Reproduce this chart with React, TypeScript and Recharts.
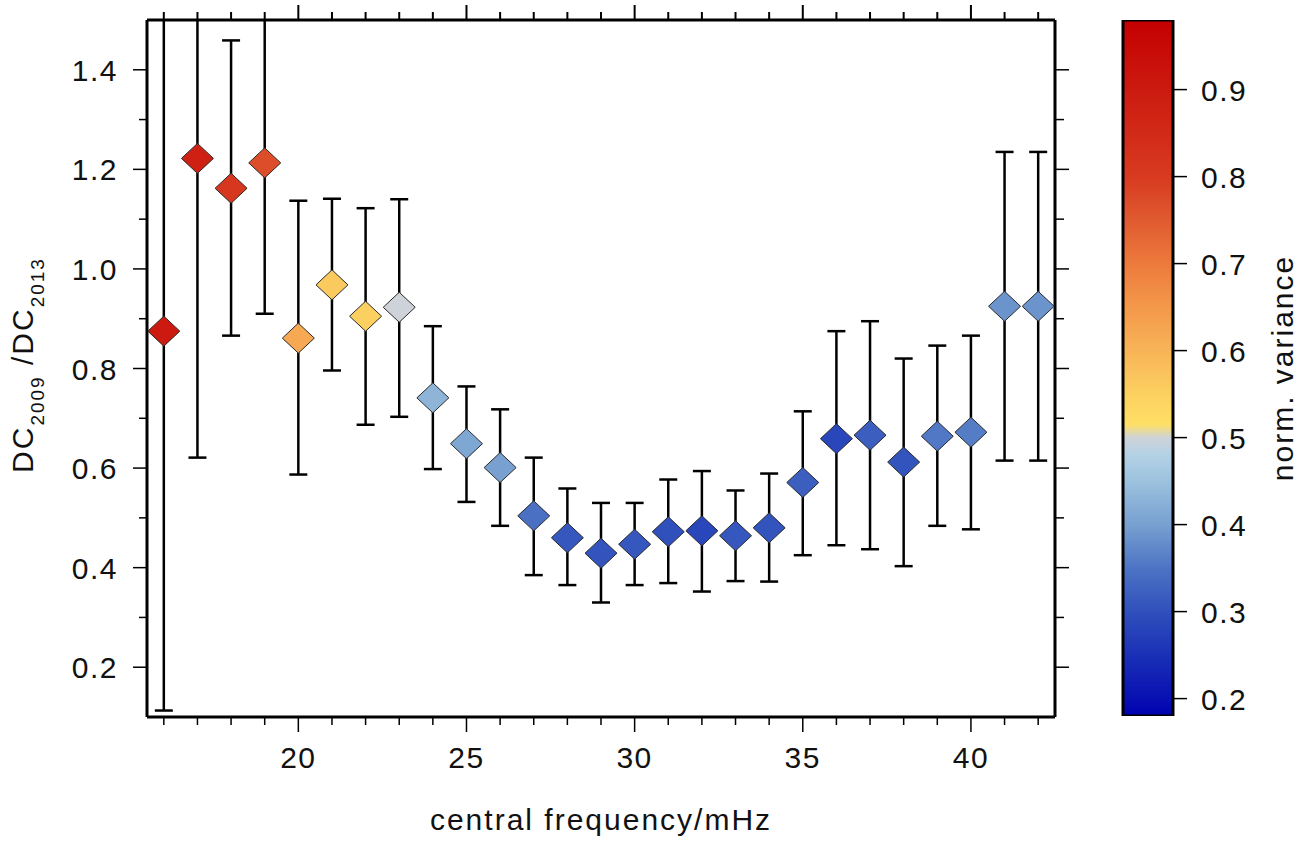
import {
  ComposedChart,
  Scatter,
  ErrorBar,
  Bar,
  XAxis,
  YAxis,
  Label,
  ReferenceLine,
} from 'recharts'

// central frequency (mHz)
const freqs = [16, 17, 18, 19, 20, 21, 22, 23, 24, 25, 26, 27, 28, 29, 30, 31, 32, 33, 34, 35, 36, 37, 38, 39, 40, 41, 42]
// DC2009 / DC2013 ratio
const ratio = [0.875, 1.222, 1.162, 1.213, 0.861, 0.968, 0.905, 0.923, 0.741, 0.649, 0.601, 0.504, 0.46, 0.429, 0.447, 0.472, 0.474, 0.464, 0.48, 0.571, 0.659, 0.666, 0.612, 0.664, 0.672, 0.925, 0.925]
const upper = [1.65, 1.65, 1.459, 1.65, 1.137, 1.141, 1.122, 1.14, 0.885, 0.764, 0.718, 0.621, 0.559, 0.53, 0.53, 0.577, 0.594, 0.555, 0.589, 0.714, 0.875, 0.895, 0.82, 0.846, 0.866, 1.235, 1.235]
const lower = [0.113, 0.621, 0.866, 0.91, 0.587, 0.796, 0.687, 0.703, 0.598, 0.532, 0.484, 0.385, 0.365, 0.33, 0.365, 0.369, 0.352, 0.373, 0.372, 0.425, 0.445, 0.437, 0.403, 0.484, 0.477, 0.615, 0.615]
const normVariance = [0.9, 0.88, 0.81, 0.77, 0.62, 0.56, 0.55, 0.5, 0.43, 0.41, 0.4, 0.345, 0.31, 0.305, 0.31, 0.3, 0.285, 0.31, 0.305, 0.32, 0.285, 0.32, 0.305, 0.355, 0.36, 0.385, 0.385]

const xTicks = [16, 17, 18, 19, 20, 21, 22, 23, 24, 25, 26, 27, 28, 29, 30, 31, 32, 33, 34, 35, 36, 37, 38, 39, 40, 41, 42]
const yTicks = [0.2, 0.3, 0.4, 0.5, 0.6, 0.7, 0.8, 0.9, 1.0, 1.1, 1.2, 1.3, 1.4]
const cbTicks = [0.2, 0.3, 0.4, 0.5, 0.6, 0.7, 0.8, 0.9]
const cbRange = [0.18, 0.98]
const xDomain = [15.5, 42.5]
const yDomain = [0.1, 1.5]

// colour palette of the variance scale
const cmap: [number, string][] = [
  [0.18, '#0000b0'],
  [0.2, '#0810b2'],
  [0.25, '#1a30b6'],
  [0.3, '#3050bc'],
  [0.35, '#4c74c4'],
  [0.4, '#78a0d0'],
  [0.45, '#9cc2de'],
  [0.48, '#b4d2e6'],
  [0.5, '#cdd3d8'],
  [0.515, '#ffe066'],
  [0.55, '#fcd060'],
  [0.6, '#f8b458'],
  [0.65, '#f4984a'],
  [0.7, '#ec7a3c'],
  [0.75, '#e05a30'],
  [0.8, '#d83a20'],
  [0.9, '#cc1a10'],
  [0.98, '#c40000'],
]

const FONT = "'Liberation Sans', Arial, Helvetica, sans-serif"

const hex = (c: string) => [1, 3, 5].map((i) => parseInt(c.slice(i, i + 2), 16))

function varianceColor(v: number) {
  if (v <= cmap[0][0]) return cmap[0][1]
  for (let i = 0; i < cmap.length - 1; i++) {
    const [a, ca] = cmap[i]
    const [b, cb] = cmap[i + 1]
    if (v <= b) {
      const t = (v - a) / (b - a)
      const A = hex(ca)
      const B = hex(cb)
      const m = A.map((x, k) => Math.round(x + (B[k] - x) * t))
      return `rgb(${m[0]},${m[1]},${m[2]})`
    }
  }
  return cmap[cmap.length - 1][1]
}

const data = freqs.map((f, i) => ({
  f,
  ratio: ratio[i],
  err: [ratio[i] - lower[i], upper[i] - ratio[i]],
  variance: normVariance[i],
}))

const cbData = [{ name: 'cb', top: cbRange[1] }]

const Diamond = (props: any) => {
  const { cx, cy, payload } = props
  const w = 16
  const h = 15
  return (
    <polygon
      points={`${cx},${cy - h} ${cx + w},${cy} ${cx},${cy + h} ${cx - w},${cy}`}
      fill={varianceColor(payload.variance)}
      stroke="#2a2a2a"
      strokeWidth={1}
    />
  )
}

// short tick above the top frame, placed by the reference line at x = v
const topTickShape = (v: number) => (p: any) => {
  const x = p.x1
  const top = Math.min(p.y1, p.y2)
  const len = v % 5 === 0 ? 15 : 8
  return <line x1={x} x2={x} y1={top - len} y2={top} stroke="#000" strokeWidth={2} />
}

const textStyle = { fontFamily: FONT, fontSize: 30, fill: '#111', letterSpacing: 1.5 }

const BottomTick = (props: any) => {
  const { x, y, payload } = props
  const major = payload.value % 5 === 0
  return (
    <g>
      <line x1={x} x2={x} y1={y} y2={y + (major ? 15 : 8)} stroke="#000" strokeWidth={1.5} />
      {major && (
        <text x={x} y={y + 51} textAnchor="middle" {...textStyle}>
          {payload.value}
        </text>
      )}
    </g>
  )
}

const LeftTick = (props: any) => {
  const { x, y, payload } = props
  const major = Math.round(payload.value * 10) % 2 === 0
  return (
    <g>
      <line x1={x - (major ? 14 : 8)} x2={x} y1={y} y2={y} stroke="#000" strokeWidth={1.5} />
      {major && (
        <text x={x - 29} y={y + 11} textAnchor="end" {...textStyle}>
          {payload.value.toFixed(1)}
        </text>
      )}
    </g>
  )
}

const RightTick = (props: any) => {
  const { x, y, payload } = props
  const major = Math.round(payload.value * 10) % 2 === 0
  return <line x1={x} x2={x + (major ? 14 : 9)} y1={y} y2={y} stroke="#000" strokeWidth={1.5} />
}

const ColorbarTick = (props: any) => {
  const { x, y, payload } = props
  return (
    <g>
      <line x1={x} x2={x + 14} y1={y} y2={y} stroke="#000" strokeWidth={1.5} />
      <text x={x + 28} y={y + 11} textAnchor="start" {...textStyle}>
        {payload.value.toFixed(1)}
      </text>
    </g>
  )
}

const YTitle = () => (
  <text transform="rotate(-90, 33, 365)" x={33} y={365} textAnchor="middle" {...textStyle} letterSpacing={2}>
    <tspan>DC</tspan>
    <tspan fontSize={19} dy={11}>2009</tspan>
    <tspan dy={-11}> /DC</tspan>
    <tspan fontSize={19} dy={11}>2013</tspan>
  </text>
)

const XTitle = () => (
  <text x={601} y={830} textAnchor="middle" {...textStyle} letterSpacing={2}>
    central frequency/mHz
  </text>
)

const CbTitle = () => (
  <text transform="rotate(-90, 193, 368)" x={193} y={368} textAnchor="middle" {...textStyle} letterSpacing={2}>
    norm. variance
  </text>
)

const axisLine = { stroke: '#000', strokeWidth: 3 }

export default function App() {
  // gradient runs top (high variance) to bottom (low variance)
  const gradStops = cmap
    .map(([v, c]) => ({
      offset: ((cbRange[1] - v) / (cbRange[1] - cbRange[0])) * 100,
      color: c,
    }))
    .reverse()

  return (
    <div style={{ position: 'absolute', left: 0, top: 0, width: 1309, height: 841, background: '#fff' }}>
      <div style={{ position: 'absolute', left: 0, top: 0 }}>
        <ComposedChart width={1309} height={841} margin={{ top: 0, right: 0, bottom: 0, left: 0 }}>
          <defs>
            <clipPath id="plotClip">
              <rect x={147} y={20} width={908} height={697} />
            </clipPath>
          </defs>
          <XAxis
            dataKey="f"
            type="number"
            domain={xDomain}
            allowDataOverflow
            ticks={xTicks}
            interval={0}
            height={124}
            tickSize={0}
            tickMargin={0}
            tickLine={false}
            axisLine={axisLine}
            tick={<BottomTick />}
            label={<Label content={<XTitle />} />}
          />
          <XAxis
            xAxisId="top"
            dataKey="f"
            orientation="top"
            type="number"
            domain={xDomain}
            allowDataOverflow
            height={20}
            tickLine={false}
            axisLine={axisLine}
            tick={false}
          />
          <YAxis
            type="number"
            domain={yDomain}
            allowDataOverflow
            ticks={yTicks}
            interval={0}
            width={147}
            tickSize={0}
            tickMargin={0}
            tickLine={false}
            axisLine={axisLine}
            tick={<LeftTick />}
            label={<Label content={<YTitle />} />}
          />
          <YAxis
            yAxisId="right"
            orientation="right"
            type="number"
            domain={yDomain}
            allowDataOverflow
            ticks={yTicks}
            interval={0}
            width={254}
            tickSize={0}
            tickMargin={0}
            tickLine={false}
            axisLine={axisLine}
            tick={<RightTick />}
          />
          <Scatter data={data} dataKey="ratio" shape={<Diamond />} isAnimationActive={false}>
            <ErrorBar
              dataKey="err"
              direction="y"
              width={9}
              stroke="#000"
              strokeWidth={2.5}
              clipPath="url(#plotClip)"
            />
          </Scatter>
          {xTicks.map((t) => (
            <ReferenceLine key={t} x={t} ifOverflow="visible" shape={topTickShape(t)} />
          ))}
        </ComposedChart>
      </div>
      <div style={{ position: 'absolute', left: 1100, top: 0 }}>
        <ComposedChart
          width={209}
          height={841}
          data={cbData}
          margin={{ top: 20, right: 0, bottom: 125, left: 23 }}
          barCategoryGap={0}
          barGap={0}
        >
          <defs>
            <linearGradient id="cbGrad" x1="0" y1="0" x2="0" y2="1">
              {gradStops.map((s, i) => (
                <stop key={i} offset={`${s.offset}%`} stopColor={s.color} />
              ))}
            </linearGradient>
          </defs>
          <XAxis dataKey="name" type="category" hide />
          <YAxis
            orientation="right"
            type="number"
            domain={cbRange}
            allowDataOverflow
            ticks={cbTicks}
            interval={0}
            width={136}
            tickSize={0}
            tickMargin={0}
            tickLine={false}
            axisLine={false}
            tick={<ColorbarTick />}
            label={<Label content={<CbTitle />} />}
          />
          <Bar dataKey="top" fill="url(#cbGrad)" stroke="#000" strokeWidth={3} isAnimationActive={false} />
        </ComposedChart>
      </div>
    </div>
  )
}
